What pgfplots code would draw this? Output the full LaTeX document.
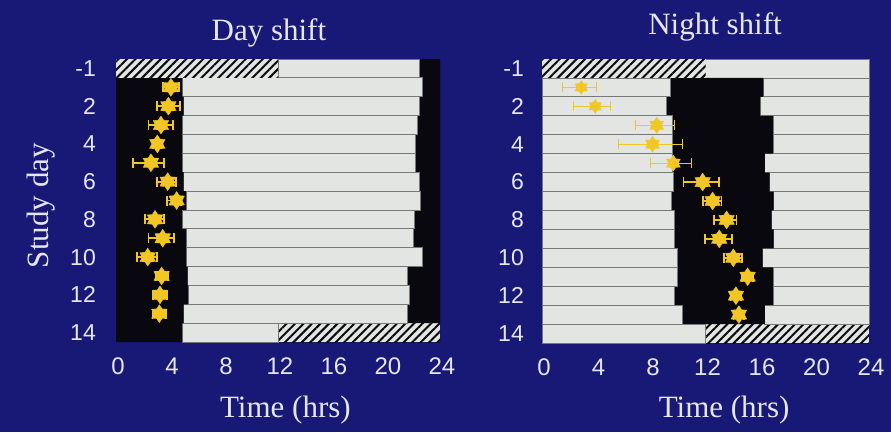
\documentclass[border=0pt]{standalone}
\usepackage{pgfplots}
\pgfplotsset{compat=1.18}
\usepackage{pgfplotstable}
\usepackage{fontspec}
\setmainfont{Liberation Serif}
\newfontfamily\tickfont{Liberation Sans}
\usetikzlibrary{patterns.meta}

\definecolor{slidebg}{RGB}{24,24,118}
\definecolor{slidetext}{RGB}{230,230,238}
\definecolor{wakefill}{RGB}{226,229,226}
\definecolor{sleepfill}{RGB}{8,8,14}
\definecolor{rowline}{RGB}{120,120,120}
\definecolor{phase}{RGB}{242,198,36}

% filled six-pointed star
\pgfdeclareplotmark{hexstar}{%
  \pgfpathmoveto{\pgfpointpolar{90}{\pgfplotmarksize}}%
  \pgfpathlineto{\pgfpointpolar{120}{0.62\pgfplotmarksize}}%
  \pgfpathlineto{\pgfpointpolar{150}{\pgfplotmarksize}}%
  \pgfpathlineto{\pgfpointpolar{180}{0.62\pgfplotmarksize}}%
  \pgfpathlineto{\pgfpointpolar{210}{\pgfplotmarksize}}%
  \pgfpathlineto{\pgfpointpolar{240}{0.62\pgfplotmarksize}}%
  \pgfpathlineto{\pgfpointpolar{270}{\pgfplotmarksize}}%
  \pgfpathlineto{\pgfpointpolar{300}{0.62\pgfplotmarksize}}%
  \pgfpathlineto{\pgfpointpolar{330}{\pgfplotmarksize}}%
  \pgfpathlineto{\pgfpointpolar{0}{0.62\pgfplotmarksize}}%
  \pgfpathlineto{\pgfpointpolar{30}{\pgfplotmarksize}}%
  \pgfpathlineto{\pgfpointpolar{60}{0.62\pgfplotmarksize}}%
  \pgfpathclose
  \pgfusepathqfillstroke
}

% Day shift: segment lengths (hrs) per study-day row, left to right
% h1 = before study, sl = sleep, wk = wake, sr = sleep, h2 = after study
\pgfplotstableread{
row h1 sl wk sr h2
0  12 0    10.5  1.5  0
1  0  4.9  17.8  1.3  0
2  0  5.0  17.45 1.55 0
3  0  4.9  17.4  1.7  0
4  0  4.9  17.25 1.85 0
5  0  4.9  17.25 1.85 0
6  0  5.0  17.5  1.5  0
7  0  5.2  17.35 1.45 0
8  0  4.9  17.2  1.9  0
9  0  5.2  16.85 1.95 0
10 0  5.2  17.5  1.3  0
11 0  5.3  16.3  2.4  0
12 0  5.35 16.4  2.25 0
13 0  5.0  16.55 2.45 0
14 0  4.9  7.1   0    12
}\dayBars

% Night shift: h1 = before study, w1 = wake, sl = sleep, w2 = wake, h2 = after study
\pgfplotstableread{
row h1 w1 sl w2 h2
0  12 0    0    12   0
1  0  9.4  6.85 7.75 0
2  0  9.1  6.9  8.0  0
3  0  9.6  7.35 7.05 0
4  0  9.6  7.35 7.05 0
5  0  9.6  6.75 7.65 0
6  0  9.65 7.05 7.3  0
7  0  9.5  7.5  7.0  0
8  0  9.75 7.1  7.15 0
9  0  9.75 7.25 7.0  0
10 0  9.95 6.25 7.8  0
11 0  9.95 7.0  7.05 0
12 0  9.75 7.2  7.05 0
13 0  10.3 6.05 7.65 0
14 0  12   0    0    12
}\nightBars

% circadian phase (hrs) with error range
\pgfplotstableread{
row t em ep
1  4.07 0.57 0.60
2  3.88 0.87 0.86
3  3.33 0.93 0.87
4  3.06 0.30 0.30
5  2.59 1.31 0.97
6  3.83 0.77 0.61
7  4.49 0.74 0.30
8  2.89 0.74 0.69
9  3.46 1.06 0.84
10 2.35 0.77 0.66
11 3.38 0.40 0.45
12 3.26 0.50 0.50
13 3.21 0.50 0.50
}\dayPhase

\pgfplotstableread{
row t em ep
1  2.88 1.42 1.10
2  3.91 1.59 1.09
}\nightPhaseA

\pgfplotstableread{
row t em ep
3  8.42 1.58 1.30
4  8.11 2.49 2.19
5  9.64 1.71 1.30
}\nightPhaseB

\pgfplotstableread{
row t em ep
6  11.79 1.41 1.20
7  12.52 0.73 0.66
8  13.55 0.90 0.73
9  13.01 1.05 0.91
10 14.04 0.69 0.61
11 15.09 0.40 0.40
12 14.23 0.40 0.40
13 14.45 0.40 0.40
}\nightPhaseC

\pgfplotsset{
  rowframe/.style={
    scale only axis, clip=false,
    xmin=0, xmax=24, ymin=-0.5, ymax=14.5, y dir=reverse,
  },
  sleepchart/.style={
    rowframe,
    xbar stacked, bar width=1,
    axis line style={draw=none}, major tick length=0pt,
    xtick={0,4,...,24},
    ytick={0,2,...,14}, yticklabels={-1,2,4,6,8,10,12,14},
    /pgf/number format/assume math mode=true,
    xticklabel style={font=\tickfont\fontsize{24}{24}\selectfont, text=slidetext,
      anchor=center, inner sep=0pt, yshift=-24pt, xshift=2pt},
    yticklabel style={font=\tickfont\fontsize{23}{23}\selectfont, text=slidetext,
      anchor=east, inner sep=0pt},
    label style={font=\fontsize{31}{36}\selectfont, text=slidetext},
    title style={font=\fontsize{31}{36}\selectfont, text=slidetext, anchor=base},
    xlabel={Time (hrs)},
  },
  hatched/.style={draw=none, fill=wakefill,
    postaction={pattern={Lines[angle=45,distance=6pt,line width=2pt]}, pattern color=sleepfill}},
  sleep/.style={draw=none, fill=sleepfill},
  wake/.style={draw=rowline, line width=0.8pt, fill=wakefill},
  phasemarks/.style={only marks, mark=hexstar, mark size=#1,
    mark options={fill=phase, draw=phase, line width=0.3pt}},
  phaseerr/.style={error bars/.cd, x dir=both, x explicit, error mark=|,
    error bar style={line width=#1, color=phase},
    error mark options={line width=#1, color=phase, mark size=5pt}},
}

\begin{document}
\begin{tikzpicture}
\useasboundingbox (0,0) rectangle (891pt,432pt);
\fill[slidebg] (0,0) rectangle (891pt,432pt);

% ---------------- Day shift ----------------
\begin{axis}[sleepchart, at={(116pt,90pt)}, anchor=south west,
  width=324pt, height=283pt,
  title={Day shift}, title style={at={(axis description cs:0.472,1)}, yshift=13pt},
  yticklabel style={xshift=-20pt},
  ylabel={Study day},
  ylabel style={at={(axis description cs:-0.232,0.482)}, anchor=center},
  xlabel style={at={(axis description cs:0.523,-0.240)}, anchor=center}]
\addplot[hatched] table[x=h1,y=row] {\dayBars};
\addplot[sleep]   table[x=sl,y=row] {\dayBars};
\addplot[wake]    table[x=wk,y=row] {\dayBars};
\addplot[sleep]   table[x=sr,y=row] {\dayBars};
\addplot[hatched] table[x=h2,y=row] {\dayBars};
\end{axis}
\begin{axis}[rowframe, hide axis, at={(116pt,90pt)}, anchor=south west,
  width=324pt, height=283pt]
\addplot[phasemarks=9pt, phaseerr=1.8pt]
  table[x=t,y=row,x error minus=em,x error plus=ep] {\dayPhase};
\end{axis}

% ---------------- Night shift ----------------
\begin{axis}[sleepchart, at={(542pt,89pt)}, anchor=south west,
  width=327pt, height=284pt,
  title={Night shift}, title style={at={(axis description cs:0.529,1)}, yshift=19pt},
  yticklabel style={xshift=-18pt},
  xlabel style={at={(axis description cs:0.557,-0.236)}, anchor=center}]
\addplot[hatched] table[x=h1,y=row] {\nightBars};
\addplot[wake]    table[x=w1,y=row] {\nightBars};
\addplot[sleep]   table[x=sl,y=row] {\nightBars};
\addplot[wake]    table[x=w2,y=row] {\nightBars};
\addplot[hatched] table[x=h2,y=row] {\nightBars};
\end{axis}
\begin{axis}[rowframe, hide axis, at={(542pt,89pt)}, anchor=south west,
  width=327pt, height=284pt]
\addplot[phasemarks=7pt, phaseerr=0.8pt]
  table[x=t,y=row,x error minus=em,x error plus=ep] {\nightPhaseA};
\addplot[phasemarks=8pt, phaseerr=1.1pt]
  table[x=t,y=row,x error minus=em,x error plus=ep] {\nightPhaseB};
\addplot[phasemarks=9pt, phaseerr=1.8pt]
  table[x=t,y=row,x error minus=em,x error plus=ep] {\nightPhaseC};
\end{axis}
\end{tikzpicture}
\end{document}
